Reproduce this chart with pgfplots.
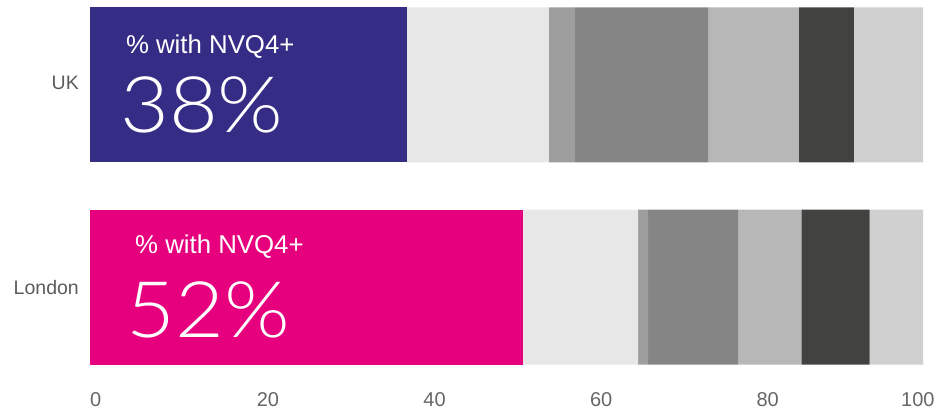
\documentclass[border=0pt]{standalone}
\usepackage{graphicx}
\usepackage{pgfplots}
\pgfplotsset{compat=1.18}
\usepackage{fontspec}
\setmainfont{Liberation Sans}
\newfontfamily\lightfont{Lato Light}
\definecolor{ukblue}{HTML}{352C86}
\definecolor{ldnpink}{HTML}{E6007E}
\definecolor{g1}{HTML}{E7E7E7}
\definecolor{g2}{HTML}{9E9E9E}
\definecolor{g3}{HTML}{858585}
\definecolor{g4}{HTML}{B7B7B7}
\definecolor{g5}{HTML}{424240}
\definecolor{g6}{HTML}{D0D0D0}
\definecolor{tickgray}{HTML}{666666}
\begin{document}
\begin{tikzpicture}
\useasboundingbox (-90pt,-40pt) rectangle (845pt,372pt);
\begin{axis}[
  name=ax,
  anchor=south west, at={(0pt,0pt)},
  xbar stacked,
  bar width=155pt,
  scale only axis,
  width=833pt, height=372pt,
  xmin=0, xmax=100,
  ymin=-0.42, ymax=1.42,
  axis line style={draw=none},
  xtick={0,20,40,60,80,100},
  xticklabels={0,20,40,60,80,{\hspace*{-22pt}100}},
  ytick={0,1},
  yticklabels={{London},{\raisebox{5pt}{UK}}},
  major tick length=0pt,
  tick style={draw=none},
  /pgf/number format/assume math mode=true,
  xticklabel style={font=\fontsize{20}{24}\selectfont, text=tickgray, anchor=base west, inner sep=0pt, yshift=-34.7pt},
  yticklabel style={font=\fontsize{19.5}{23}\selectfont, text=tickgray!90!black, anchor=east, inner sep=0pt, xshift=-11pt},
  every axis plot/.append style={draw=none},
  clip=false,
]
\addplot[fill=ukblue] coordinates {(38.0,1) (0,0)};
\addplot[fill=ldnpink] coordinates {(0,1) (52.0,0)};
\addplot[fill=g1] coordinates {(17.1,1) (13.8,0)};
\addplot[fill=g2] coordinates {(3.1,1) (1.2,0)};
\addplot[fill=g3] coordinates {(16.0,1) (10.8,0)};
\addplot[fill=g4] coordinates {(10.9,1) (7.6,0)};
\addplot[fill=g5] coordinates {(6.6,1) (8.2,0)};
\addplot[fill=g6] coordinates {(8.3,1) (6.4,0)};
\coordinate (uks) at (axis cs:4.3,1.156);
\coordinate (ukb) at (axis cs:3.6,0.765);
\coordinate (lds) at (axis cs:5.4,0.166);
\coordinate (ldb) at (axis cs:4.4,-0.25);
\end{axis}
\node[anchor=base west, inner sep=0pt, text=white, font=\fontsize{25.8}{30}\selectfont] at (uks) {\% with NVQ4+};
\node[anchor=base west, inner sep=0pt, text=white, font=\lightfont\fontsize{78}{90}\selectfont] at (ukb) {\scalebox{1.08}[1]{38\%}};
\node[anchor=base west, inner sep=0pt, text=white, font=\fontsize{25.8}{30}\selectfont] at (lds) {\% with NVQ4+};
\node[anchor=base west, inner sep=0pt, text=white, font=\lightfont\fontsize{78}{90}\selectfont] at (ldb) {\scalebox{1.08}[1]{52\%}};
\end{tikzpicture}
\end{document}
